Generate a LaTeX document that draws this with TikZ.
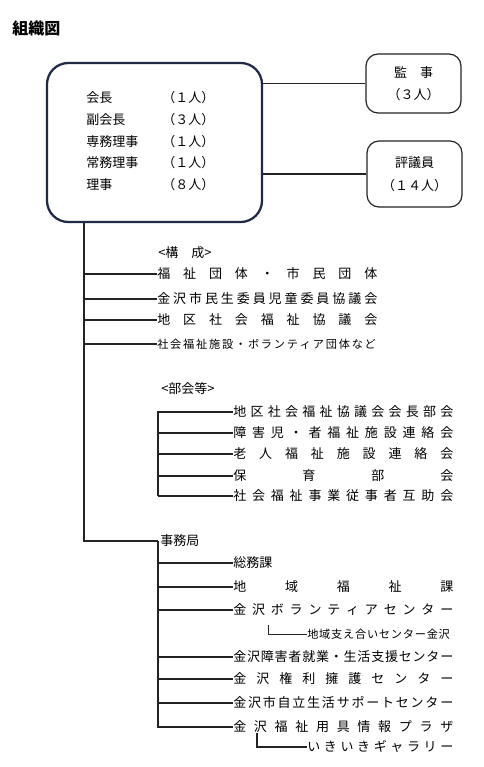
\documentclass[tikz,border=0pt]{standalone}
\usepackage{fontspec}
\setmainfont{Noto Sans CJK JP}
\definecolor{boardnavy}{RGB}{32,42,68}
\definecolor{linegray}{RGB}{35,35,35}

% spread the characters of #2 evenly over the width #1
\makeatletter
\newcommand\spreadtext[2]{\makebox[#1][l]{\spread@loop#2\relax\unskip}}
\def\spread@loop#1{\ifx\relax#1\else#1\hfill\expandafter\spread@loop\fi}
\makeatother

\begin{document}
\begin{tikzpicture}[x=0.75pt,y=-0.75pt,
  every node/.style={inner sep=0pt},
  item/.style={anchor=west,font=\fontsize{9.75pt}{12pt}\selectfont,text height=8.4pt,text depth=1.35pt},
  small/.style={item,font=\fontsize{8.4pt}{10pt}\selectfont,text height=7.2pt,text depth=1.2pt},
  sidebox/.style={draw=linegray,line width=0.9pt,rounded corners=9pt,minimum width=71.25pt,align=center,font=\fontsize{9.75pt}{17pt}\selectfont},
  link/.style={line width=0.8pt,linegray}]
\useasboundingbox (0,0) rectangle (483,767);

\node[anchor=west,font=\fontsize{12pt}{14pt}\selectfont\bfseries] (title) at (12,28) {組織図};

% board of directors
\node[draw=boardnavy,line width=1.7pt,rounded corners=16pt,minimum width=161.25pt,minimum height=119.25pt] (board) at (154.5,142.5) {};
\foreach \post/\cnt [count=\i] in {会長/１,副会長/３,専務理事/１,常務理事/１,理事/８}{
  \node[item] (m\i) at (86,{98+21.75*(\i-1)}) {\post};
  \node[item] (c\i) at (162,{98+21.75*(\i-1)}) {（\cnt 人）};
}

\node[sidebox,minimum height=44.25pt] (audit) at (413.5,83.5) {監　事\\（３人）};
\node[sidebox,minimum height=49.5pt] (council) at (414.5,174) {評議員\\（１４人）};
\draw[link] (audit.west) -- (audit.west -| board.east);
\draw[link] (council.west) -- (council.west -| board.east);

% main trunk
\coordinate (trunk) at (84,541);
\coordinate (jt) at (158,541);
\node[item] (office) at (160,541) {事務局};
\draw[link] (board.south -| trunk) -- (trunk) -- (jt);

% members
\node[item] (lbl1) at (158,253) {<構　成>};
\node[item] (k1) at (157,274) {\spreadtext{165pt}{福祉団体・市民団体}};
\node[item] (k2) at (157,299) {\spreadtext{165pt}{金沢市民生委員児童委員協議会}};
\node[item] (k3) at (157,320) {\spreadtext{165pt}{地区社会福祉協議会}};
\node[small] (k4) at (157,344) {\spreadtext{164pt}{社会福祉施設・ボランティア団体など}};
\foreach \n in {k1,k2,k3,k4}
  \draw[link] (trunk |- \n.west) -- (\n.west);

% sections
\node[item] (lbl2) at (161,389) {<部会等>};
\coordinate (bk) at (158,412);
\node[item] (g1) at (233,412) {\spreadtext{165pt}{地区社会福祉協議会会長部会}};
\node[item] (g2) at (233,433) {\spreadtext{165pt}{障害児・者福祉施設連絡会}};
\node[item] (g3) at (233,454) {\spreadtext{165pt}{老人福祉施設連絡会}};
\node[item] (g4) at (233,476) {\spreadtext{165pt}{保育部会}};
\node[item] (g5) at (233,496) {\spreadtext{165pt}{社会福祉事業従事者互助会}};
\draw[link] (g1.west) -| (bk |- g5.west);
\foreach \n in {g2,g3,g4,g5}
  \draw[link] (bk |- \n.west) -- (\n.west);

% secretariat
\node[item] (s1) at (233,563) {総務課};
\node[item] (s2) at (233,587) {\spreadtext{165pt}{地域福祉課}};
\node[item] (s3) at (233,610) {\spreadtext{165pt}{金沢ボランティアセンター}};
\node[item] (s4) at (233,657) {\spreadtext{165pt}{金沢障害者就業・生活支援センター}};
\node[item] (s5) at (233,679) {\spreadtext{165pt}{金沢権利擁護センター}};
\node[item] (s6) at (233,703) {\spreadtext{165pt}{金沢市自立生活サポートセンター}};
\node[item] (s7) at (233,727) {\spreadtext{165pt}{金沢福祉用具情報プラザ}};
\draw[link] (jt) |- (s7.west);
\foreach \i in {1,...,6}
  \draw[link] (jt |- s\i.west) -- (s\i.west);

\node[small] (support) at (307,634) {\spreadtext{107pt}{地域支え合いセンター金沢}};
\coordinate (vc) at (268,625);
\draw[linegray,line width=0.5pt] (vc) |- (support.west);
\node[item] (gallery) at (307,747) {\spreadtext{109.5pt}{いきいきギャラリー}};
\coordinate (pz) at (257,733);
\draw[link] (pz) |- (gallery.west);
\end{tikzpicture}
\end{document}
